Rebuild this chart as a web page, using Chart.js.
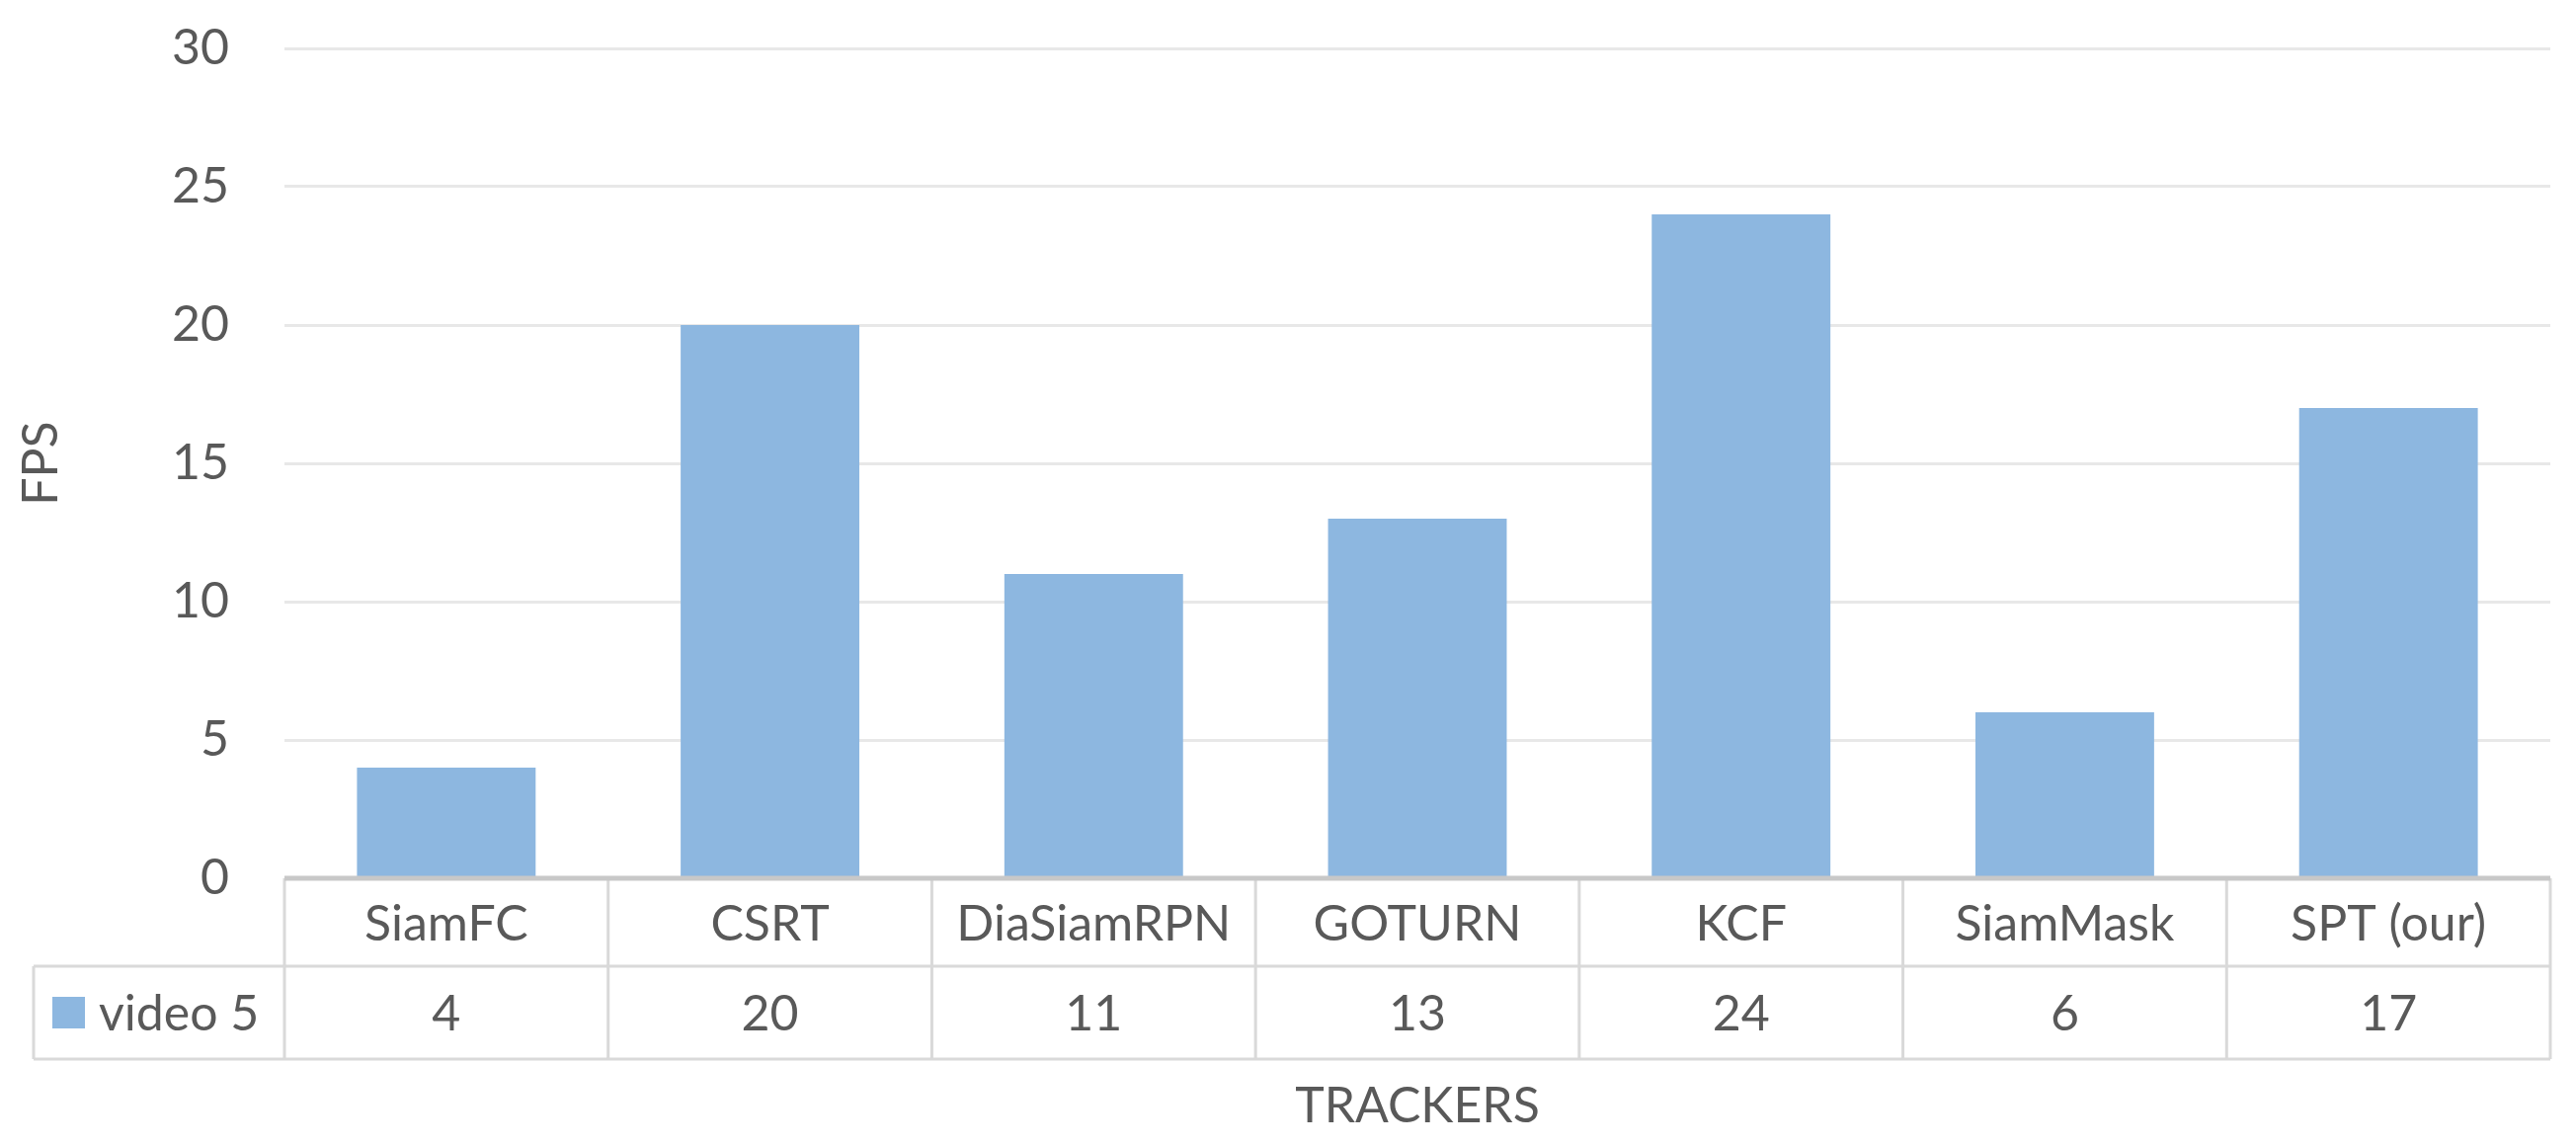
<!DOCTYPE html>
<html>
<head>
<meta charset="utf-8">
<script src="https://cdn.jsdelivr.net/npm/chart.js@4"></script>
<style>
  html, body { margin: 0; padding: 0; background: #fff; }
  canvas { display: block; }
</style>
</head>
<body>
<canvas id="fpsChart" width="2608" height="1160"></canvas>
<script>
// data
const trackers = ['SiamFC', 'CSRT', 'DiaSiamRPN', 'GOTURN', 'KCF', 'SiamMask', 'SPT (our)'];
const seriesName = 'video 5';
const fpsValues = [4, 20, 11, 13, 24, 6, 17];
const yTicks = [0, 5, 10, 15, 20, 25, 30];

const FONT = 'Lato, "Open Sans", sans-serif';
const TEXT = '#595959';
const BAR = '#8db7e0';

// draws the excel-style data table under the plot
const dataTable = {
  id: 'dataTable',
  afterDraw(chart) {
    const ctx = chart.ctx;
    const area = chart.chartArea;
    const n = trackers.length;
    const colW = (area.right - area.left) / n;
    const top = area.bottom;
    const mid = top + 89;
    const bot = mid + 94;
    const legLeft = 34;

    ctx.save();
    ctx.strokeStyle = '#d9d9d9';
    ctx.lineWidth = 3;
    ctx.beginPath();
    for (let i = 0; i <= n; i++) {
      const x = area.left + i * colW;
      ctx.moveTo(x, top); ctx.lineTo(x, bot);
    }
    ctx.moveTo(legLeft, mid); ctx.lineTo(area.right, mid);
    ctx.moveTo(legLeft, bot); ctx.lineTo(area.right, bot);
    ctx.moveTo(legLeft, mid); ctx.lineTo(legLeft, bot);
    ctx.stroke();

    // category axis line
    ctx.strokeStyle = '#c8c8c8';
    ctx.lineWidth = 5;
    ctx.beginPath();
    ctx.moveTo(area.left, top); ctx.lineTo(area.right, top);
    ctx.stroke();

    ctx.fillStyle = TEXT;
    ctx.font = '50px ' + FONT;
    ctx.textAlign = 'center';
    ctx.textBaseline = 'middle';
    trackers.forEach((t, i) => {
      const cx = area.left + (i + 0.5) * colW;
      ctx.fillText(t, cx, (top + mid) / 2 + 2);
      ctx.fillText(String(fpsValues[i]), cx, (mid + bot) / 2 + 2);
    });

    // legend key
    ctx.fillStyle = BAR;
    ctx.fillRect(53, (mid + bot) / 2 - 16, 33, 32);
    ctx.fillStyle = TEXT;
    ctx.textAlign = 'left';
    ctx.fillText(seriesName, 100, (mid + bot) / 2 + 2);

    // axis title
    ctx.textAlign = 'center';
    ctx.fillText('TRACKERS', (area.left + area.right) / 2, 1120);
    ctx.restore();
  }
};

new Chart(document.getElementById('fpsChart').getContext('2d'), {
  type: 'bar',
  data: {
    labels: trackers,
    datasets: [{
      label: seriesName,
      data: fpsValues,
      backgroundColor: BAR,
      categoryPercentage: 1,
      barPercentage: 0.552
    }]
  },
  options: {
    responsive: false,
    animation: false,
    layout: { padding: { top: 49, right: 26, bottom: 271, left: 0 } },
    plugins: {
      legend: { display: false },
      tooltip: { enabled: false }
    },
    scales: {
      x: { display: false },
      y: {
        min: 0,
        max: 30,
        afterBuildTicks: (scale) => { scale.ticks = yTicks.map(v => ({ value: v })); },
        afterFit: (scale) => {
          scale.width = 288;
          scale.paddingTop = 0;
          scale.paddingBottom = 0;
        },
        ticks: { color: TEXT, font: { family: FONT, size: 50 }, padding: 56 },
        grid: {
          color: (c) => c.tick && c.tick.value === 0 ? 'rgba(0,0,0,0)' : '#e8e8e8',
          lineWidth: 3,
          drawTicks: false
        },
        border: { display: false },
        title: {
          display: true,
          text: 'FPS',
          color: TEXT,
          font: { family: FONT, size: 50, lineHeight: 1.2 },
          padding: { top: 12, bottom: 0 }
        }
      }
    }
  },
  plugins: [dataTable]
});
</script>
</body>
</html>
